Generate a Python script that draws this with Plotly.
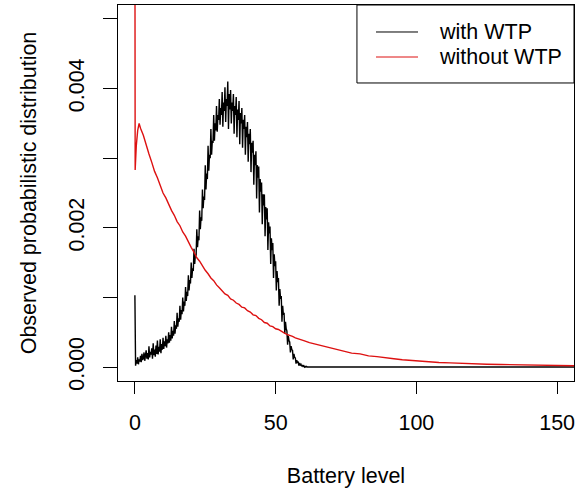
import numpy as np
import plotly.graph_objects as go

# ---------------- data ----------------
with_wtp_x = list(np.arange(0, 62.25, 0.25)) + [156]
with_wtp_y = [
    0.00103, 0.00002, 0.00010, 0.00005, 0.00014, 0.00004, 0.00011, 0.00008,
    0.00016, 0.00007, 0.00019, 0.00010, 0.00013, 0.00021, 0.00009, 0.00017,
    0.00024, 0.00012, 0.00020, 0.00011, 0.00030, 0.00014, 0.00022, 0.00018,
    0.00027, 0.00012, 0.00034, 0.00017, 0.00025, 0.00015, 0.00031, 0.00019,
    0.00038, 0.00018, 0.00029, 0.00022, 0.00040, 0.00020, 0.00033, 0.00025,
    0.00042, 0.00026, 0.00037, 0.00030, 0.00045, 0.00028, 0.00040, 0.00034,
    0.00050, 0.00035, 0.00046, 0.00038, 0.00058, 0.00041, 0.00052, 0.00045,
    0.00066, 0.00048, 0.00060, 0.00055, 0.00078, 0.00058, 0.00070, 0.00065,
    0.00088, 0.00068, 0.00082, 0.00076, 0.00100, 0.00080, 0.00094, 0.00088,
    0.00115, 0.00095, 0.00108, 0.00102, 0.00132, 0.00110, 0.00125, 0.00120,
    0.00150, 0.00128, 0.00142, 0.00138, 0.00170, 0.00148, 0.00162, 0.00160,
    0.00198, 0.00172, 0.00188, 0.00182, 0.00225, 0.00198, 0.00215, 0.00210,
    0.00255, 0.00228, 0.00245, 0.00240, 0.00290, 0.00255, 0.00278, 0.00270,
    0.00318, 0.00282, 0.00305, 0.00300, 0.00342, 0.00305, 0.00325, 0.00322,
    0.00362, 0.00325, 0.00350, 0.00340, 0.00375, 0.00338, 0.00362, 0.00355,
    0.00385, 0.00348, 0.00372, 0.00362, 0.00395, 0.00345, 0.00380, 0.00368,
    0.00402, 0.00352, 0.00385, 0.00375, 0.00410, 0.00342, 0.00392, 0.00370,
    0.00398, 0.00350, 0.00380, 0.00368, 0.00392, 0.00335, 0.00375, 0.00362,
    0.00388, 0.00330, 0.00370, 0.00355, 0.00382, 0.00320, 0.00365, 0.00350,
    0.00372, 0.00315, 0.00355, 0.00342, 0.00362, 0.00305, 0.00345, 0.00330,
    0.00352, 0.00295, 0.00335, 0.00320, 0.00342, 0.00280, 0.00322, 0.00308,
    0.00325, 0.00262, 0.00305, 0.00290, 0.00310, 0.00242, 0.00290, 0.00272,
    0.00288, 0.00222, 0.00270, 0.00252, 0.00265, 0.00205, 0.00248, 0.00232,
    0.00248, 0.00188, 0.00230, 0.00212, 0.00228, 0.00168, 0.00208, 0.00192,
    0.00202, 0.00148, 0.00185, 0.00168, 0.00178, 0.00128, 0.00162, 0.00145,
    0.00152, 0.00110, 0.00138, 0.00122, 0.00128, 0.00088, 0.00112, 0.00098,
    0.00102, 0.00065, 0.00088, 0.00075, 0.00078, 0.00048, 0.00065, 0.00055,
    0.00052, 0.00032, 0.00045, 0.00038, 0.00036, 0.00021, 0.00030, 0.00025,
    0.00024, 0.00011, 0.00019, 0.00014, 0.00013, 0.00005, 0.00010, 0.00007,
    0.00008, 0.00002, 0.00006, 0.00003, 0.00004, 0.00001, 0.00003, 0.00001,
    0.00002, 0.00000, 0.00001, 0.00000, 0.00001, 0.00000, 0.00000, 0.00000,
    0.00000,
    0.00000,
]

without_wtp_x = [
    0, 0.1, 0.5, 1, 1.5, 2, 3, 4, 5, 6, 7, 8, 9, 10, 11, 12, 13, 14, 15, 16, 17, 18, 19, 20,
    21, 22, 23, 24, 25, 26, 27, 28, 29, 30, 31, 32, 33, 34, 35, 36, 37, 38, 39, 40,
    41, 42, 43, 44, 45, 46, 47, 48, 49, 50, 51, 52, 53, 54, 55, 56, 57, 58, 59, 60,
    62, 64, 66, 68, 70, 72, 74, 77, 80, 83, 86, 89, 92, 95, 98, 101, 104, 108, 112,
    116, 120, 125, 130, 135, 140, 145, 150, 156,
]
without_wtp_y = [
    0.0068, 0.00283, 0.00318, 0.00340, 0.00350, 0.00343,
    0.00333, 0.00318, 0.00306, 0.00294, 0.00281, 0.00272, 0.00262, 0.00250, 0.00243, 0.00233,
    0.00225, 0.00218, 0.00209, 0.00203, 0.00194, 0.00188, 0.00179, 0.00172, 0.00165, 0.00157,
    0.00152, 0.00145, 0.00139, 0.00134, 0.00128, 0.00124, 0.00118, 0.00114, 0.00110, 0.00105,
    0.00103, 0.00098, 0.00096, 0.00092, 0.00090, 0.00086, 0.00085, 0.00081, 0.00079, 0.00075,
    0.00074, 0.00070, 0.00068, 0.00064, 0.00063, 0.00059, 0.00058, 0.00055, 0.00054, 0.00051,
    0.00049, 0.00047, 0.00046, 0.00044, 0.00042, 0.00041, 0.00039, 0.00038,
    0.00035, 0.00033, 0.00030, 0.00028, 0.00026, 0.00024, 0.00023,
    0.00020, 0.00019, 0.00016, 0.00015, 0.00013, 0.00012, 0.000105, 0.000095, 0.000083, 0.000078,
    0.000066, 0.000060, 0.000052, 0.000047,
    0.000041, 0.000037, 0.000032, 0.000029, 0.000025, 0.000023, 0.00002,
]
assert len(with_wtp_x) == len(with_wtp_y)
assert len(without_wtp_x) == len(without_wtp_y)

x_ticks = [0, 50, 100, 150]
y_ticks = [0.000, 0.001, 0.002, 0.003, 0.004, 0.005]
y_ticktext = ["0.000", "", "0.002", "", "0.004", ""]
series_names = ["with WTP", "without WTP"]
series_colors = ["#000000", "#DD1111"]

FONT = "Liberation Sans, Arial, sans-serif"
FS = 21.5

fig = go.Figure()
fig.add_trace(go.Scatter(x=with_wtp_x, y=with_wtp_y, mode="lines", name=series_names[0],
                         line=dict(color=series_colors[0], width=1.4)))
fig.add_trace(go.Scatter(x=without_wtp_x, y=without_wtp_y, mode="lines", name=series_names[1],
                         line=dict(color=series_colors[1], width=1.4)))

# legend (R-style box drawn in paper coordinates)
leg_rows = [0.9282, 0.8617]
shapes = [dict(type="rect", xref="paper", yref="paper",
               x0=0.524, x1=1.0, y0=0.7926, y1=1.0,
               line=dict(color="black", width=1), fillcolor="rgba(0,0,0,0)")]
annotations = []
for name, col, yy in zip(series_names, series_colors, leg_rows):
    shapes.append(dict(type="line", xref="paper", yref="paper",
                       x0=0.5658, x1=0.6579, y0=yy, y1=yy,
                       line=dict(color=col, width=1)))
    annotations.append(dict(xref="paper", yref="paper", x=0.6996, y=yy,
                            xanchor="left", yanchor="middle", showarrow=False,
                            text=name, font=dict(family=FONT, size=FS, color="black")))

fig.update_layout(
    width=579, height=489,
    margin=dict(l=118, r=5, t=5, b=108),
    paper_bgcolor="white", plot_bgcolor="white",
    font=dict(family=FONT, size=FS, color="black"),
    showlegend=False,
    shapes=shapes,
    annotations=annotations,
)

fig.update_xaxes(
    range=[-6, 156], tickvals=x_ticks, ticktext=[str(v) for v in x_ticks],
    ticks="outside", ticklen=12, tickwidth=1, tickcolor="black",
    showline=True, linecolor="black", linewidth=1, mirror=True,
    showgrid=False, zeroline=False, ticklabelstandoff=10,
    title=dict(text="Battery level", font=dict(size=FS), standoff=34),
    automargin=False,
)
fig.update_yaxes(
    range=[-0.0002, 0.0052], tickvals=y_ticks, ticktext=y_ticktext, tickangle=-90,
    ticks="outside", ticklen=14, tickwidth=1, tickcolor="black",
    showline=True, linecolor="black", linewidth=1, mirror=True,
    showgrid=False, zeroline=False, ticklabelstandoff=10,
    title=dict(text="Observed probabilistic distribution", font=dict(size=FS), standoff=22),
    automargin=False,
)

fig.write_html("out.html")
